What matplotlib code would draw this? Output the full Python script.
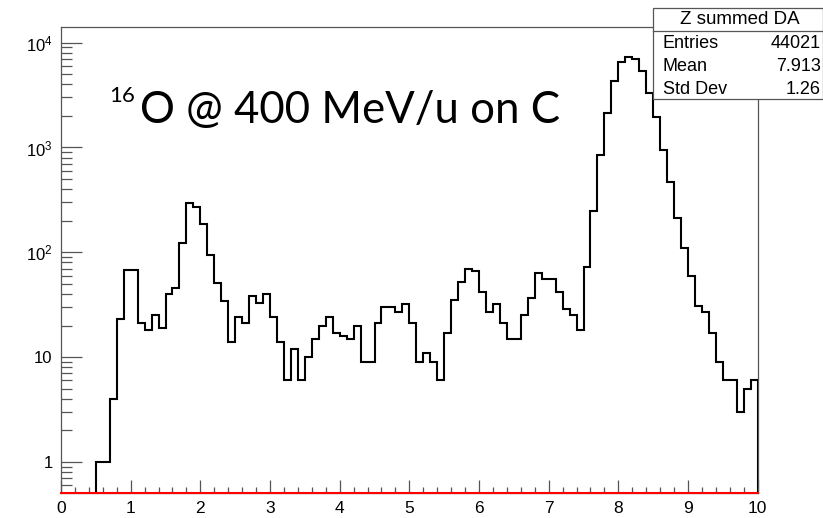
import numpy as np
import matplotlib
matplotlib.use("Agg")
import matplotlib.pyplot as plt
from matplotlib.ticker import FixedLocator, FixedFormatter, LogLocator, NullFormatter, MultipleLocator
from matplotlib.patches import Rectangle
from matplotlib.lines import Line2D

plt.rcParams['font.family'] = ['Liberation Sans', 'DejaVu Sans']

# histogramme Z (100 bins de 0 a 10)
edges = np.linspace(0, 10, 101)
counts = np.array([
    0, 0, 0, 0, 0, 1, 1, 4, 23, 68,
    68, 21, 18, 25, 19, 40, 46, 122, 294, 270,
    187, 94, 51, 34, 14, 24, 21, 38, 33, 40,
    24, 14, 6, 12, 6, 10, 15, 20, 24, 17,
    16, 15, 20, 9, 9, 21, 30, 30, 27, 32,
    21, 9, 11, 9, 6, 17, 35, 52, 70, 67,
    42, 27, 32, 21, 15, 15, 25, 37, 63, 56,
    56, 42, 29, 25, 18, 73, 249, 845, 2125, 4290,
    6590, 7360, 7040, 5370, 3335, 1945, 948, 470, 212, 111,
    59, 31, 27, 17, 9, 6, 6, 3, 5, 6,
])

title = "Z summed DA"
stat_names = ["Entries", "Mean", "Std Dev"]
stat_values = ["44021", "7.913", "1.26"]

W, H = 823, 518
fig = plt.figure(figsize=(W / 100, H / 100), dpi=100)
ax = fig.add_axes([61 / W, 1 - 492.7 / H, (757.7 - 61) / W, (492.7 - 27.3) / H])

ax.stairs(counts, edges, baseline=0, color="black", linewidth=1.5, zorder=3)
ax.axhline(0.51, color="red", linewidth=1.5, zorder=4, clip_on=False)

ax.set_yscale("log")
ax.set_xlim(0, 10)
ax.set_ylim(0.51, 1.4e4)

frame = "#555555"
for s in ax.spines.values():
    s.set_color(frame)
    s.set_linewidth(0.9)

ax.xaxis.set_major_locator(MultipleLocator(1))
ax.xaxis.set_minor_locator(MultipleLocator(0.2))
ax.yaxis.set_major_locator(FixedLocator([1, 10, 100, 1000, 10000]))
ax.yaxis.set_major_formatter(FixedFormatter(
    ["1", "10", r"$\mathregular{10^{2}}$", r"$\mathregular{10^{3}}$", r"$\mathregular{10^{4}}$"]))
ax.yaxis.set_minor_locator(LogLocator(base=10, subs=np.arange(2, 10), numticks=20))
ax.yaxis.set_minor_formatter(NullFormatter())

ax.tick_params(axis="y", which="major", direction="in", length=15, width=0.9, color=frame,
               labelsize=12, pad=6)
ax.tick_params(axis="y", which="minor", direction="in", length=7.7, width=0.9, color=frame)
ax.tick_params(axis="x", which="major", direction="in", length=9.6, width=0.9, color=frame,
               labelsize=12.5, pad=6)
ax.tick_params(axis="x", which="minor", direction="in", length=4.3, width=0.9, color=frame)

# etiquette de la reaction
fig.text(109 / W, 1 - 86 / H, "16", fontsize=16, family="Lato", va="top", ha="left")
fig.text(140 / W, 1 - 123 / H, "O @ 400 MeV/u on C", fontsize=31.5, family="Lato",
         va="baseline", ha="left")

# boite de stats
x0, x1, y0, y1 = 653.3, 823, 8, 99.3
fig.patches.append(Rectangle((x0 / W, 1 - y1 / H), (x1 - x0) / W, (y1 - y0) / H,
                             transform=fig.transFigure, facecolor="white",
                             edgecolor=frame, linewidth=0.9, zorder=5))
fig.lines.append(Line2D([x0 / W, x1 / W], [1 - 30.7 / H] * 2, transform=fig.transFigure,
                        color=frame, linewidth=0.9, zorder=6))
fig.text(740 / W, 1 - 19.5 / H, title, fontsize=13.5, ha="center", va="center", zorder=7)
for i, (n, v) in enumerate(zip(stat_names, stat_values)):
    yy = 1 - (43.3 + i * 23) / H
    fig.text(663 / W, yy, n, fontsize=13, ha="left", va="center", zorder=7)
    fig.text(821 / W, yy, v, fontsize=13, ha="right", va="center", zorder=7)

fig.savefig("out.png", dpi=100)
